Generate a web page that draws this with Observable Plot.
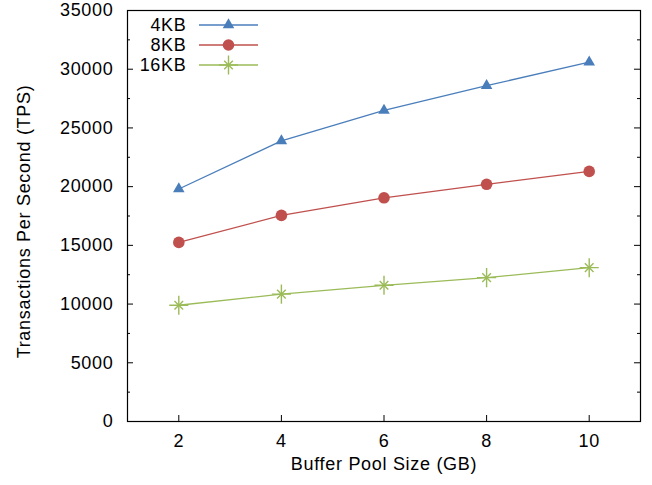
<!DOCTYPE html>
<html><head><meta charset="utf-8">
<script src="https://cdn.jsdelivr.net/npm/d3@7"></script>
<script src="https://cdn.jsdelivr.net/npm/@observablehq/plot@0.6"></script>
<style>
body{margin:0;background:#fff}
#chart{position:relative;width:652px;height:485px}
#chart svg{font-family:"Liberation Sans",Arial,sans-serif}
#chart svg text{letter-spacing:0.7px}
#chart svg text.ytitle{letter-spacing:1.1px}
</style>
</head><body><div id="chart"></div>
<script>
// ---- data ----
const bufferSizes = [2, 4, 6, 8, 10];
const seriesNames = ["4KB", "8KB", "16KB"];
const tps4KB  = [19800, 23900, 26500, 28600, 30600];
const tps8KB  = [15250, 17550, 19050, 20200, 21300];
const tps16KB = [9900, 10850, 11600, 12250, 13100];
const yMajorTicks = [0, 5000, 10000, 15000, 20000, 25000, 30000, 35000];
const yMinorTicks = [2500, 7500, 12500, 17500, 22500, 27500, 32500];
const xTicks = [2, 4, 6, 8, 10];
const xTitle = "Buffer Pool Size (GB)";
const yTitle = "Transactions Per Second (TPS)";

// ---- style ----
const colors = ["#4a7ebb", "#c0504d", "#9bbb59"];
const FS = 18;
const W = 652, H = 485;
const mL = 127, mR = 12, mT = 10, mB = 64;
const plotW = W - mL - mR, plotH = H - mT - mB;

const seriesValues = [tps4KB, tps8KB, tps16KB];
const rows = seriesNames.flatMap((s, i) =>
  bufferSizes.map((x, j) => ({series: s, x, y: seriesValues[i][j]})));
const bySeries = s => rows.filter(d => d.series === s);

const chart = Plot.plot({
  width: W, height: H,
  marginLeft: mL, marginRight: mR, marginTop: mT, marginBottom: mB,
  x: {domain: [1, 11]},
  y: {domain: [0, 35000]},
  color: {domain: seriesNames, range: colors},
  style: {fontFamily: '"Liberation Sans", Arial, sans-serif', fontSize: FS + "px", color: "#000", background: "#fff"},
  marks: [
    // inward ticks
    Plot.ruleY(yMajorTicks, {y: d => d, insetRight: plotW - 6, stroke: "#000"}),
    Plot.ruleY(yMajorTicks, {y: d => d, insetLeft: plotW - 6, stroke: "#000"}),
    Plot.ruleY(yMinorTicks, {y: d => d, insetRight: plotW - 3, stroke: "#000"}),
    Plot.ruleY(yMinorTicks, {y: d => d, insetLeft: plotW - 3, stroke: "#000"}),
    Plot.ruleX(xTicks, {x: d => d, insetTop: plotH - 6, stroke: "#000"}),
    Plot.axisY(yMajorTicks, {tickSize: 0, tickPadding: 14, label: null, fontSize: FS, tickFormat: d => String(d)}),
    Plot.axisX(xTicks, {tickSize: 0, tickPadding: 13, label: null, fontSize: FS, tickFormat: d => String(d)}),
    Plot.text([yTitle], {frameAnchor: "left", textAnchor: "middle", dx: 24 - mL, dy: 5.5, rotate: -90, fontSize: FS, className: "ytitle"}),
    Plot.text([xTitle], {frameAnchor: "bottom", textAnchor: "middle", dy: 48.5, fontSize: FS}),
    Plot.line(rows, {x: "x", y: "y", z: "series", stroke: "series", strokeWidth: 1.3}),
    Plot.dot(bySeries("4KB"), {x: "x", y: "y", symbol: "triangle", fill: "series", r: 4.3}),
    Plot.dot(bySeries("8KB"), {x: "x", y: "y", symbol: "circle", fill: "series", r: 5.8}),
    Plot.dot(bySeries("16KB"), {x: "x", y: "y", symbol: "plus", stroke: "series", r: 6.2, strokeWidth: 1.4}),
    Plot.dot(bySeries("16KB"), {x: "x", y: "y", symbol: "times", stroke: "series", r: 4.0, strokeWidth: 1.4}),
    Plot.frame({stroke: "#000", strokeWidth: 1.2})
  ]
});
document.getElementById("chart").appendChild(chart);

// ---- legend (inside plot, top-left) ----
const svg = d3.select(chart);
const lg = svg.append("g").attr("font-size", FS).attr("font-family", '"Liberation Sans", Arial, sans-serif');
const symSize = {"4KB": Math.PI * 4.3 * 4.3, "8KB": Math.PI * 5.8 * 5.8};
seriesNames.forEach((s, i) => {
  const y = 25 + i * 20;
  const g = lg.append("g").attr("transform", `translate(0,${y})`);
  g.append("text").attr("x", 186.5).attr("y", 0).attr("dy", "0.35em").attr("text-anchor", "end").text(s);
  g.append("line").attr("x1", 199).attr("x2", 258).attr("y1", 0).attr("y2", 0)
    .attr("stroke", colors[i]).attr("stroke-width", 1.3);
  const m = g.append("g").attr("transform", "translate(228.5,0)");
  if (i === 0) m.append("path").attr("d", d3.symbol(d3.symbolTriangle, symSize[s])()).attr("fill", colors[i]);
  else if (i === 1) m.append("path").attr("d", d3.symbol(d3.symbolCircle, symSize[s])()).attr("fill", colors[i]);
  else {
    m.append("path").attr("d", d3.symbol(d3.symbolPlus, Math.PI * 6.2 * 6.2)()).attr("stroke", colors[i]).attr("fill", "none").attr("stroke-width", 1.4);
    m.append("path").attr("d", d3.symbol(d3.symbolTimes, Math.PI * 4 * 4)()).attr("stroke", colors[i]).attr("fill", "none").attr("stroke-width", 1.4);
  }
});
</script>
</body></html>
